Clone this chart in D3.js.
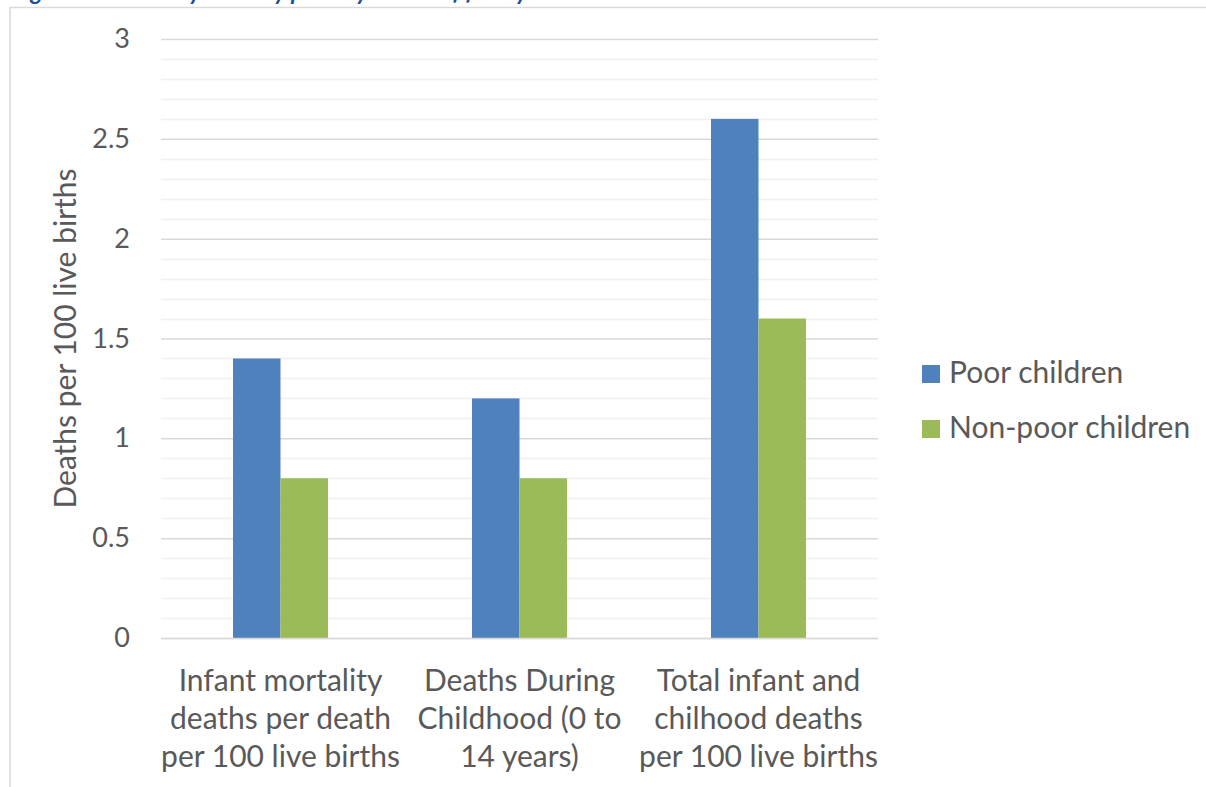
<!DOCTYPE html>
<html><head><meta charset="utf-8">
<script src="https://cdn.jsdelivr.net/npm/d3@7"></script>
<style>
html,body{margin:0;padding:0;background:#fff;}
svg{display:block;}
text{font-family:"Lato","Open Sans",sans-serif;fill:#595959;}
</style></head>
<body>
<svg id="chart" width="1206" height="787"></svg>
<script>
const categories = [
  ["Infant mortality","deaths per death","per 100 live births"],
  ["Deaths During","Childhood (0 to","14 years)"],
  ["Total infant and","chilhood deaths","per 100 live births"]
];
const seriesNames = ["Poor children","Non-poor children"];
const poorValues = [1.4, 1.2, 2.6];
const nonPoorValues = [0.8, 0.8, 1.6];
const yTicks = [0, 0.5, 1, 1.5, 2, 2.5, 3];
const yTickLabels = ["0","0.5","1","1.5","2","2.5","3"];
const minorTicks = d3.range(0, 3.0001, 0.1);
const colors = ["#4F81BD","#9BBB59"];
const yTitle = "Deaths per 100 live births";
const titleText = "Figure 3: Mortality rates by poverty status of family";

const svg = d3.select("#chart");
const W = 1206, H = 787;
const plot = {left:161, right:878, top:39, bottom:638};

// frame
svg.append("line").attr("x1",10).attr("x2",W).attr("y1",7.5).attr("y2",7.5).attr("stroke","#d9d9d9").attr("stroke-width",1.5);
svg.append("line").attr("x1",10).attr("x2",10).attr("y1",7).attr("y2",H).attr("stroke","#d9d9d9").attr("stroke-width",1.5);

// title above the chart frame (mostly outside the window, as in the reference)
svg.append("text").attr("x",12).attr("y",0).text(titleText)
  .style("font-style","italic").style("font-weight","bold").style("font-size","24px").style("fill","#1F4E99");

const x0 = d3.scaleBand().domain(d3.range(categories.length)).range([plot.left, plot.right]).paddingInner(0).paddingOuter(0);
const barW = 47.5;
const x1 = d3.scaleBand().domain(d3.range(2)).range([0, barW*2]);
const y = d3.scaleLinear().domain([0,3]).range([plot.bottom, plot.top]);

// minor gridlines
svg.append("g").selectAll("line").data(minorTicks.filter(t => Math.abs(t*2 - Math.round(t*2))>1e-6)).join("line")
  .attr("x1",plot.left).attr("x2",plot.right)
  .attr("y1",d=>Math.round(y(d))+0.5).attr("y2",d=>Math.round(y(d))+0.5)
  .attr("stroke","#f0f0f0").attr("stroke-width",1.5);
// major gridlines via axis
const yAxis = d3.axisLeft(y).tickValues(yTicks).tickSize(-(plot.right-plot.left)).tickFormat((d,i)=>yTickLabels[i]).tickPadding(31);
const gy = svg.append("g").attr("transform",`translate(${plot.left},0)`).call(yAxis);
gy.select(".domain").remove();
gy.selectAll(".tick line").attr("stroke","#d9d9d9").attr("stroke-width",1.5);
gy.selectAll(".tick text").style("font-size","27px").attr("fill","#595959").style("font-family","Lato, 'Open Sans', sans-serif");

// bars
const data = categories.map((c,i)=>[poorValues[i], nonPoorValues[i]]);
const groups = svg.append("g").selectAll("g").data(data).join("g")
  .attr("transform",(d,i)=>`translate(${x0(i)+x0.bandwidth()/2-barW},0)`);
groups.selectAll("rect").data(d=>d).join("rect")
  .attr("x",(d,j)=>x1(j)).attr("width",x1.bandwidth())
  .attr("y",d=>y(d)).attr("height",d=>y(0)-y(d))
  .attr("fill",(d,j)=>colors[j]);

// baseline
svg.append("line").attr("x1",plot.left).attr("x2",plot.right).attr("y1",plot.bottom+0.5).attr("y2",plot.bottom+0.5).attr("stroke","#d9d9d9").attr("stroke-width",1.5);

// category labels
const cat = svg.append("g").selectAll("text").data(categories).join("text")
  .attr("text-anchor","middle").style("font-size","30px")
  .attr("transform",(d,i)=>`translate(${x0(i)+x0.bandwidth()/2},0)`);
cat.selectAll("tspan").data(d=>d).join("tspan")
  .attr("x",0).attr("y",(d,k)=>691+k*38).text(d=>d);

// y title
svg.append("text").attr("transform",`translate(76,${(plot.top+plot.bottom)/2}) rotate(-90)`)
  .attr("text-anchor","middle").style("font-size","30px").text(yTitle);

// legend
const lg = svg.append("g").selectAll("g").data(seriesNames).join("g")
  .attr("transform",(d,i)=>`translate(922,${365+i*55})`);
lg.append("rect").attr("width",18).attr("height",18).attr("fill",(d,i)=>colors[i]);
lg.append("text").attr("x",27).attr("y",18).style("font-size","30px").text(d=>d);
</script>
</body></html>
